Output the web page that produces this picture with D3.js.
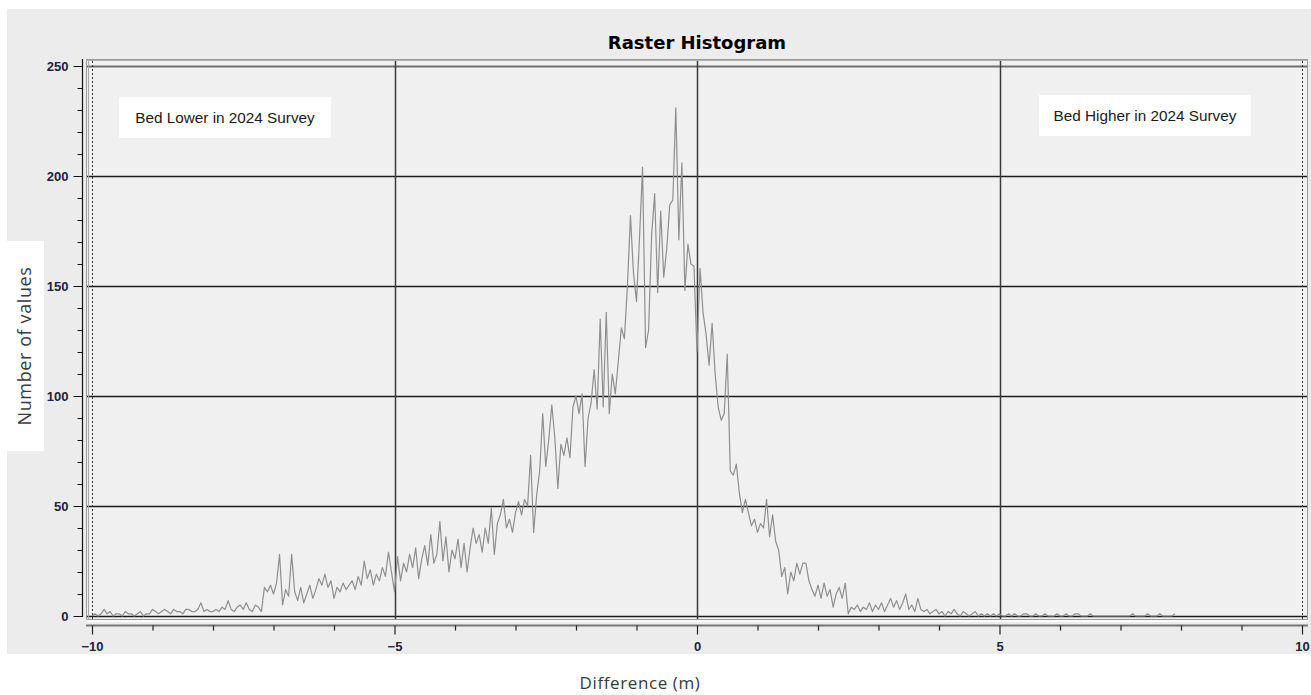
<!DOCTYPE html>
<html>
<head>
<meta charset="utf-8">
<script src="https://cdn.jsdelivr.net/npm/d3@7"></script>
<style>
  html, body { margin: 0; padding: 0; background: #ffffff; }
  svg { display: block; }
</style>
</head>
<body>
<svg id="chart" width="1311" height="695"></svg>
<script>
// ---------------- DATA ----------------
const chartTitle = "Raster Histogram";
const xAxisTitle = "Difference (m)";
const yAxisTitle = "Number of values";
const leftNote = "Bed Lower in 2024 Survey";
const rightNote = "Bed Higher in 2024 Survey";

const xMajorTicks = [-10, -5, 0, 5, 10];
const xMinorTicks = [-9, -8, -7, -6, -4, -3, -2, -1, 1, 2, 3, 4, 6, 7, 8, 9];
const yMajorTicks = [0, 50, 100, 150, 200, 250];
const yMinorTicks = [10, 20, 30, 40, 60, 70, 80, 90, 110, 120, 130, 140, 160, 170, 180, 190, 210, 220, 230, 240];

const binStart = -10;
const binWidth = 0.05;

// histogram counts, one row per unit of difference (20 bins each)
const countsM10 = [0,1,0,1,3,1,2,0,1,1,0,2,1,1,0,1,2,0,1,1];
const countsM9  = [3,2,1,2,3,2,1,3,2,2,1,3,3,2,2,3,6,2,3,2];
const countsM8  = [2,3,2,4,3,7,3,2,4,5,3,6,3,2,5,4,2,13,11,14];
const countsM7  = [10,15,28,5,12,9,28,11,7,13,6,10,14,8,12,17,14,19,13,16];
const countsM6  = [8,13,11,15,12,14,16,12,18,14,25,17,21,14,19,16,22,18,29,20];
const countsM5  = [11,27,16,24,20,28,22,31,17,26,32,23,37,24,28,43,25,36,20,30];
const countsM4  = [26,35,22,33,20,31,40,33,37,29,40,33,49,28,42,46,53,40,44,38];
const countsM3  = [47,52,46,53,50,73,38,55,66,92,68,80,96,81,58,78,73,81,72,95];
const countsM2  = [100,92,101,68,90,97,112,94,135,95,138,92,110,101,116,131,126,150,182,156];
const countsM1  = [143,172,204,122,130,173,192,147,184,154,167,187,189,231,171,206,148,169,160,159];
const counts0   = [120,158,138,128,114,133,110,95,89,92,119,66,64,69,56,47,53,47,41,44];
const counts1   = [38,42,40,53,36,46,34,30,18,22,10,20,16,24,19,24,24,16,12,9];
const counts2   = [14,8,15,9,12,4,10,13,8,15,1,4,3,5,2,4,3,6,2,5];
const counts3   = [3,6,2,5,8,4,7,3,6,10,3,5,2,8,3,2,3,1,2,3];
const counts4   = [1,2,0,2,1,3,1,0,2,1,0,1,2,0,1,0,1,0,1,0];
const counts5   = [1,0,0,1,0,1,0,0,1,1,0,0,1,0,0,1,0,0,0,1];
const counts6   = [0,0,1,0,0,1,1,0,0,0,1,0,0,0,0,0,0,0,0,0];
const counts7   = [0,0,0,0,1,0,0,0,0,1,0,0,0,1,0,0,0,0,1];

const counts = [].concat(countsM10, countsM9, countsM8, countsM7, countsM6, countsM5,
  countsM4, countsM3, countsM2, countsM1, counts0, counts1, counts2, counts3,
  counts4, counts5, counts6, counts7);
const histData = counts.map((c, i) => ({ x: binStart + i * binWidth, y: c }));

// ---------------- DRAW ----------------
const svg = d3.select("#chart");
const W = 1311, H = 695;

const x = d3.scaleLinear().domain([-10, 10]).range([92, 1302]);
const y = d3.scaleLinear().domain([0, 250]).range([616, 66]);

// outer panel
svg.append("rect").attr("x", 7).attr("y", 9).attr("width", W - 7).attr("height", 645)
  .attr("fill", "#ececec");

// plot area
const plotL = 86, plotT = 59, plotR = 1308, plotB = 620;
svg.append("rect").attr("x", plotL).attr("y", plotT)
  .attr("width", plotR - plotL).attr("height", plotB - plotT)
  .attr("fill", "#f0f0f0");

// white stripe under plot
svg.append("rect").attr("x", plotL).attr("y", plotB - 1).attr("width", plotR - plotL).attr("height", 3)
  .attr("fill", "#fafafa");

// horizontal grid lines
svg.append("g").selectAll("line").data(yMajorTicks).join("line")
  .attr("x1", plotL).attr("x2", plotR)
  .attr("y1", d => Math.round(y(d)) + 0.5).attr("y2", d => Math.round(y(d)) + 0.5)
  .attr("stroke", d => d === 250 ? "#6e6e6e" : "#1c1c1c")
  .attr("stroke-width", d => d === 250 ? 2 : 1.3);

// vertical grid lines
svg.append("g").selectAll("line").data([-5, 0, 5]).join("line")
  .attr("x1", d => Math.round(x(d)) + 0.5).attr("x2", d => Math.round(x(d)) + 0.5)
  .attr("y1", plotT + 2).attr("y2", plotB - 1)
  .attr("stroke", "#3a3a3a").attr("stroke-width", 1.5);

// dashed limits at -10 and 10
svg.append("g").selectAll("line").data([-10, 10]).join("line")
  .attr("x1", d => Math.round(x(d)) + 0.5).attr("x2", d => Math.round(x(d)) + 0.5)
  .attr("y1", plotT + 2).attr("y2", plotB)
  .attr("stroke", "#333").attr("stroke-width", 1)
  .attr("stroke-dasharray", "2,2");

// histogram line
const line = d3.line().x(d => x(d.x)).y(d => y(d.y));
svg.append("path").datum(histData)
  .attr("d", line)
  .attr("fill", "none")
  .attr("stroke", "#8f8f8f")
  .attr("stroke-width", 1.2)
  .attr("stroke-linejoin", "round");

// plot frame
svg.append("rect").attr("x", plotL + 0.5).attr("y", plotT + 0.5)
  .attr("width", plotR - plotL - 1).attr("height", plotB - plotT - 1)
  .attr("fill", "none").attr("stroke", "#9a9a9a").attr("stroke-width", 1);
svg.append("line").attr("x1", plotL + 2.5).attr("x2", plotL + 2.5)
  .attr("y1", plotT + 1).attr("y2", plotB - 1)
  .attr("stroke", "#a8a8a8").attr("stroke-width", 1);
svg.append("line").attr("x1", plotL).attr("x2", plotR)
  .attr("y1", plotT + 1.5).attr("y2", plotT + 1.5)
  .attr("stroke", "#b0b0b0").attr("stroke-width", 1);

// Y axis
const tickFont = "'Liberation Sans', Arial, sans-serif";
const yAxisG = svg.append("g").attr("transform", "translate(82.5,0)");
yAxisG.call(d3.axisLeft(y).tickValues(yMajorTicks).tickSize(9).tickPadding(5).tickFormat(d3.format("d")));
yAxisG.append("g").call(d3.axisLeft(y).tickValues(yMinorTicks).tickSize(5).tickFormat(""))
  .select(".domain").remove();
yAxisG.select(".domain").attr("d", `M0,${plotT}V${617}`);
yAxisG.selectAll("line").attr("stroke", "#111").attr("stroke-width", 1);
yAxisG.selectAll("path.domain").attr("stroke", "#111").attr("stroke-width", 1.2);
yAxisG.selectAll("text").attr("font-family", tickFont).attr("font-size", 13)
  .attr("font-weight", "bold").attr("fill", "#22223a");

// X axis
const xAxisG = svg.append("g").attr("transform", "translate(0,625.5)");
xAxisG.call(d3.axisBottom(x).tickValues(xMajorTicks).tickSize(9).tickPadding(7).tickFormat(d3.format("d")));
xAxisG.append("g").call(d3.axisBottom(x).tickValues(xMinorTicks).tickSize(5).tickFormat(""))
  .select(".domain").remove();
xAxisG.select(".domain").attr("d", `M${plotL},0H${plotR}`).attr("stroke", "#777").attr("stroke-width", 2);
xAxisG.selectAll(".tick line").attr("stroke", "#222").attr("stroke-width", 1.2);
xAxisG.selectAll("text").attr("font-family", tickFont).attr("font-size", 13)
  .attr("font-weight", "bold").attr("fill", "#22223a");

// title
svg.append("text").attr("x", 697).attr("y", 49).attr("text-anchor", "middle")
  .attr("font-family", "'DejaVu Sans', Verdana, sans-serif").attr("font-size", 18).attr("font-weight", "bold")
  .attr("fill", "#000").text(chartTitle);

// annotation boxes
const notes = [
  { text: leftNote, x: 119, y: 97, w: 212, h: 41 },
  { text: rightNote, x: 1039, y: 95, w: 212, h: 41 }
];
const ng = svg.append("g").selectAll("g").data(notes).join("g");
ng.append("rect").attr("x", d => d.x).attr("y", d => d.y).attr("width", d => d.w).attr("height", d => d.h)
  .attr("fill", "#ffffff");
ng.append("text").attr("x", d => d.x + d.w / 2).attr("y", d => d.y + d.h / 2 + 5)
  .attr("text-anchor", "middle")
  .attr("font-family", "'Liberation Sans', Arial, sans-serif").attr("font-size", 15.3)
  .attr("fill", "#1a1a1a").text(d => d.text);

// y-axis title box
svg.append("rect").attr("x", 7).attr("y", 241).attr("width", 37).attr("height", 210).attr("fill", "#ffffff");
svg.append("text").attr("transform", "translate(31,346) rotate(-90)")
  .attr("text-anchor", "middle")
  .attr("font-family", "'Open Sans', sans-serif").attr("font-size", 18)
  .attr("letter-spacing", 0.6)
  .attr("fill", "#3a3a3a").text(yAxisTitle);

// x-axis title
svg.append("text").attr("x", 640).attr("y", 689).attr("text-anchor", "middle")
  .attr("font-family", "'Open Sans', sans-serif").attr("font-size", 17)
  .attr("letter-spacing", 0.6)
  .attr("fill", "#3a3a3a").text(xAxisTitle);
</script>
</body>
</html>
